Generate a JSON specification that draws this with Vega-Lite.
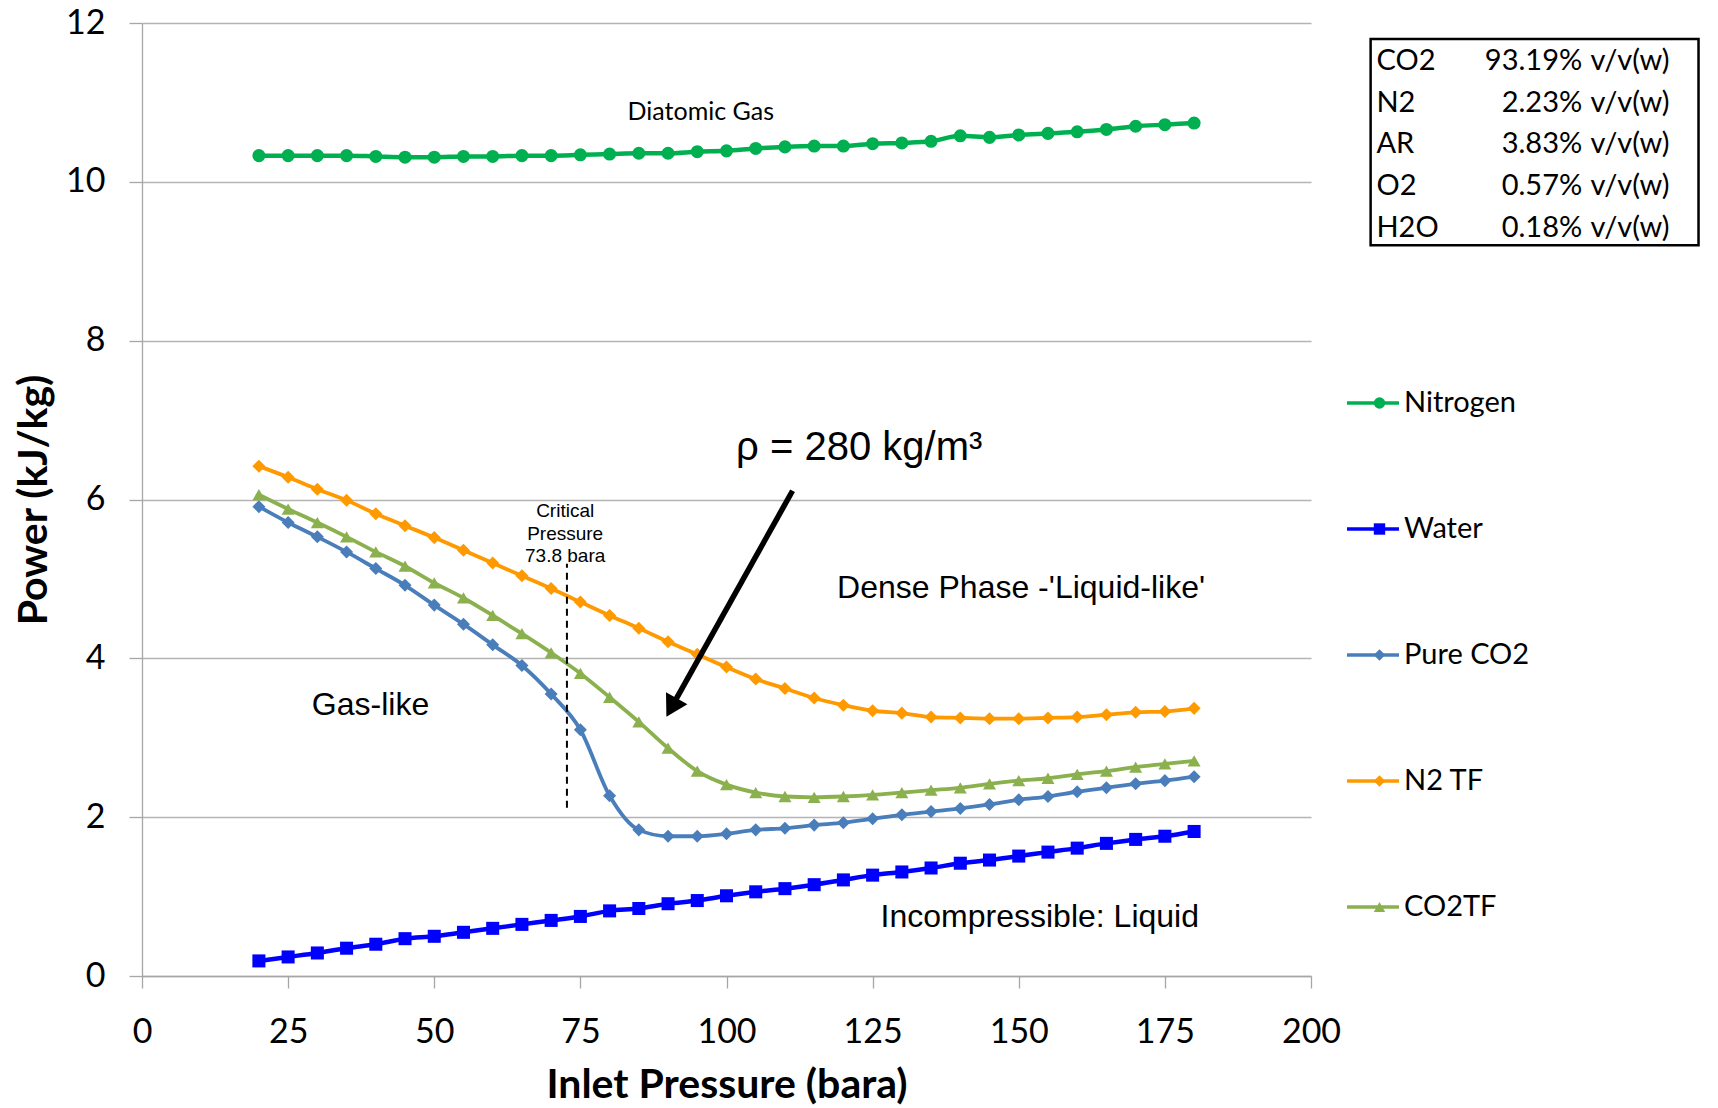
{
  "$schema": "https://vega.github.io/schema/vega-lite/v6.json",
  "width": 1169,
  "height": 953,
  "autosize": {"type": "none"},
  "padding": {"left": 142, "top": 23, "right": 407, "bottom": 132},
  "background": "white",
  "config": {
    "view": {"stroke": null},
    "axis": {
      "labelFont": "Lato", "labelFontSize": 34, "labelColor": "#000000",
      "titleFont": "Lato", "titleFontSize": 41, "titleFontWeight": "bold", "titleColor": "#000000",
      "gridColor": "#B4B4B4", "gridWidth": 1.3,
      "domainColor": "#A6A6A6", "domainWidth": 1.3,
      "tickColor": "#A6A6A6", "tickWidth": 1.3
    }
  },
  "datasets": {
    "curves": [
      {"series":"Nitrogen","p":20,"power":10.33},{"series":"Nitrogen","p":25,"power":10.33},{"series":"Nitrogen","p":30,"power":10.33},{"series":"Nitrogen","p":35,"power":10.33},{"series":"Nitrogen","p":40,"power":10.32},{"series":"Nitrogen","p":45,"power":10.31},{"series":"Nitrogen","p":50,"power":10.31},{"series":"Nitrogen","p":55,"power":10.32},{"series":"Nitrogen","p":60,"power":10.32},{"series":"Nitrogen","p":65,"power":10.33},{"series":"Nitrogen","p":70,"power":10.33},{"series":"Nitrogen","p":75,"power":10.34},{"series":"Nitrogen","p":80,"power":10.35},{"series":"Nitrogen","p":85,"power":10.36},{"series":"Nitrogen","p":90,"power":10.36},{"series":"Nitrogen","p":95,"power":10.38},{"series":"Nitrogen","p":100,"power":10.39},{"series":"Nitrogen","p":105,"power":10.42},{"series":"Nitrogen","p":110,"power":10.44},{"series":"Nitrogen","p":115,"power":10.45},{"series":"Nitrogen","p":120,"power":10.45},{"series":"Nitrogen","p":125,"power":10.48},{"series":"Nitrogen","p":130,"power":10.49},{"series":"Nitrogen","p":135,"power":10.51},{"series":"Nitrogen","p":140,"power":10.58},{"series":"Nitrogen","p":145,"power":10.56},{"series":"Nitrogen","p":150,"power":10.59},{"series":"Nitrogen","p":155,"power":10.61},{"series":"Nitrogen","p":160,"power":10.63},{"series":"Nitrogen","p":165,"power":10.66},{"series":"Nitrogen","p":170,"power":10.7},{"series":"Nitrogen","p":175,"power":10.72},{"series":"Nitrogen","p":180,"power":10.74},
      {"series":"Water","p":20,"power":0.19},{"series":"Water","p":25,"power":0.24},{"series":"Water","p":30,"power":0.29},{"series":"Water","p":35,"power":0.35},{"series":"Water","p":40,"power":0.4},{"series":"Water","p":45,"power":0.47},{"series":"Water","p":50,"power":0.5},{"series":"Water","p":55,"power":0.55},{"series":"Water","p":60,"power":0.6},{"series":"Water","p":65,"power":0.65},{"series":"Water","p":70,"power":0.7},{"series":"Water","p":75,"power":0.75},{"series":"Water","p":80,"power":0.82},{"series":"Water","p":85,"power":0.85},{"series":"Water","p":90,"power":0.91},{"series":"Water","p":95,"power":0.95},{"series":"Water","p":100,"power":1.01},{"series":"Water","p":105,"power":1.06},{"series":"Water","p":110,"power":1.1},{"series":"Water","p":115,"power":1.15},{"series":"Water","p":120,"power":1.21},{"series":"Water","p":125,"power":1.27},{"series":"Water","p":130,"power":1.31},{"series":"Water","p":135,"power":1.36},{"series":"Water","p":140,"power":1.42},{"series":"Water","p":145,"power":1.46},{"series":"Water","p":150,"power":1.51},{"series":"Water","p":155,"power":1.56},{"series":"Water","p":160,"power":1.61},{"series":"Water","p":165,"power":1.67},{"series":"Water","p":170,"power":1.72},{"series":"Water","p":175,"power":1.76},{"series":"Water","p":180,"power":1.82},
      {"series":"Pure CO2","p":20,"power":5.91},{"series":"Pure CO2","p":25,"power":5.71},{"series":"Pure CO2","p":30,"power":5.53},{"series":"Pure CO2","p":35,"power":5.34},{"series":"Pure CO2","p":40,"power":5.13},{"series":"Pure CO2","p":45,"power":4.92},{"series":"Pure CO2","p":50,"power":4.67},{"series":"Pure CO2","p":55,"power":4.43},{"series":"Pure CO2","p":60,"power":4.17},{"series":"Pure CO2","p":65,"power":3.91},{"series":"Pure CO2","p":70,"power":3.55},{"series":"Pure CO2","p":75,"power":3.1},{"series":"Pure CO2","p":80,"power":2.27},{"series":"Pure CO2","p":85,"power":1.84},{"series":"Pure CO2","p":90,"power":1.76},{"series":"Pure CO2","p":95,"power":1.76},{"series":"Pure CO2","p":100,"power":1.79},{"series":"Pure CO2","p":105,"power":1.84},{"series":"Pure CO2","p":110,"power":1.86},{"series":"Pure CO2","p":115,"power":1.9},{"series":"Pure CO2","p":120,"power":1.93},{"series":"Pure CO2","p":125,"power":1.98},{"series":"Pure CO2","p":130,"power":2.03},{"series":"Pure CO2","p":135,"power":2.07},{"series":"Pure CO2","p":140,"power":2.11},{"series":"Pure CO2","p":145,"power":2.16},{"series":"Pure CO2","p":150,"power":2.22},{"series":"Pure CO2","p":155,"power":2.26},{"series":"Pure CO2","p":160,"power":2.32},{"series":"Pure CO2","p":165,"power":2.37},{"series":"Pure CO2","p":170,"power":2.42},{"series":"Pure CO2","p":175,"power":2.46},{"series":"Pure CO2","p":180,"power":2.51},
      {"series":"N2 TF","p":20,"power":6.42},{"series":"N2 TF","p":25,"power":6.28},{"series":"N2 TF","p":30,"power":6.13},{"series":"N2 TF","p":35,"power":5.99},{"series":"N2 TF","p":40,"power":5.82},{"series":"N2 TF","p":45,"power":5.67},{"series":"N2 TF","p":50,"power":5.52},{"series":"N2 TF","p":55,"power":5.36},{"series":"N2 TF","p":60,"power":5.2},{"series":"N2 TF","p":65,"power":5.04},{"series":"N2 TF","p":70,"power":4.88},{"series":"N2 TF","p":75,"power":4.71},{"series":"N2 TF","p":80,"power":4.54},{"series":"N2 TF","p":85,"power":4.38},{"series":"N2 TF","p":90,"power":4.21},{"series":"N2 TF","p":95,"power":4.05},{"series":"N2 TF","p":100,"power":3.89},{"series":"N2 TF","p":105,"power":3.74},{"series":"N2 TF","p":110,"power":3.62},{"series":"N2 TF","p":115,"power":3.5},{"series":"N2 TF","p":120,"power":3.41},{"series":"N2 TF","p":125,"power":3.34},{"series":"N2 TF","p":130,"power":3.31},{"series":"N2 TF","p":135,"power":3.26},{"series":"N2 TF","p":140,"power":3.25},{"series":"N2 TF","p":145,"power":3.24},{"series":"N2 TF","p":150,"power":3.24},{"series":"N2 TF","p":155,"power":3.25},{"series":"N2 TF","p":160,"power":3.26},{"series":"N2 TF","p":165,"power":3.29},{"series":"N2 TF","p":170,"power":3.32},{"series":"N2 TF","p":175,"power":3.33},{"series":"N2 TF","p":180,"power":3.37},
      {"series":"CO2TF","p":20,"power":6.06},{"series":"CO2TF","p":25,"power":5.88},{"series":"CO2TF","p":30,"power":5.71},{"series":"CO2TF","p":35,"power":5.53},{"series":"CO2TF","p":40,"power":5.34},{"series":"CO2TF","p":45,"power":5.16},{"series":"CO2TF","p":50,"power":4.95},{"series":"CO2TF","p":55,"power":4.76},{"series":"CO2TF","p":60,"power":4.54},{"series":"CO2TF","p":65,"power":4.31},{"series":"CO2TF","p":70,"power":4.07},{"series":"CO2TF","p":75,"power":3.81},{"series":"CO2TF","p":80,"power":3.51},{"series":"CO2TF","p":85,"power":3.2},{"series":"CO2TF","p":90,"power":2.87},{"series":"CO2TF","p":95,"power":2.58},{"series":"CO2TF","p":100,"power":2.41},{"series":"CO2TF","p":105,"power":2.31},{"series":"CO2TF","p":110,"power":2.26},{"series":"CO2TF","p":115,"power":2.25},{"series":"CO2TF","p":120,"power":2.26},{"series":"CO2TF","p":125,"power":2.28},{"series":"CO2TF","p":130,"power":2.31},{"series":"CO2TF","p":135,"power":2.34},{"series":"CO2TF","p":140,"power":2.37},{"series":"CO2TF","p":145,"power":2.42},{"series":"CO2TF","p":150,"power":2.46},{"series":"CO2TF","p":155,"power":2.49},{"series":"CO2TF","p":160,"power":2.54},{"series":"CO2TF","p":165,"power":2.58},{"series":"CO2TF","p":170,"power":2.63},{"series":"CO2TF","p":175,"power":2.67},{"series":"CO2TF","p":180,"power":2.71}
    ],
    "regions": [
      {"label":"Gas-like","p":39.1,"power":3.41},
      {"label":"Dense Phase -'Liquid-like'","p":150.4,"power":4.885},
      {"label":"Incompressible: Liquid","p":153.6,"power":0.74}
    ],
    "critical": [
      {"label":"Critical","p":72.4,"power":5.855},
      {"label":"Pressure","p":72.4,"power":5.565},
      {"label":"73.8 bara","p":72.4,"power":5.29}
    ],
    "composition": [
      {"gas":"CO2","pct":"93.19%","unit":"v/v(w)","gp":211.2,"pp":246.4,"up":247.8,"power":11.52},
      {"gas":"N2","pct":"2.23%","unit":"v/v(w)","gp":211.2,"pp":246.4,"up":247.8,"power":10.99},
      {"gas":"AR","pct":"3.83%","unit":"v/v(w)","gp":211.2,"pp":246.4,"up":247.8,"power":10.476},
      {"gas":"O2","pct":"0.57%","unit":"v/v(w)","gp":211.2,"pp":246.4,"up":247.8,"power":9.947},
      {"gas":"H2O","pct":"0.18%","unit":"v/v(w)","gp":211.2,"pp":246.4,"up":247.8,"power":9.418}
    ]
  },
  "layer": [
    {
      "data": {"name": "curves"},
      "mark": {"type": "line", "interpolate": "monotone"},
      "encoding": {
        "x": {
          "field": "p", "type": "quantitative",
          "scale": {"domain": [0, 200], "nice": false},
          "axis": {"values": [0,25,50,75,100,125,150,175,200], "format": "d", "labelFlush": false, "title": "Inlet Pressure (bara)", "grid": false, "tickSize": 12, "labelPadding": 27, "titlePadding": 16}
        },
        "y": {
          "field": "power", "type": "quantitative",
          "scale": {"domain": [0, 12], "nice": false},
          "axis": {"values": [0,2,4,6,8,10,12], "format": "d", "labelFlush": false, "title": "Power (kJ/kg)", "grid": true, "tickSize": 13, "labelPadding": 24, "titlePadding": 10}
        },
        "color": {
          "field": "series", "type": "nominal",
          "scale": {"domain": ["Nitrogen","Water","Pure CO2","N2 TF","CO2TF"], "range": ["#00B050","#0000FF","#4A7EBB","#FF9900","#8BB04E"]},
          "legend": {
            "orient": "none", "legendX": 1203, "legendY": 365, "title": null,
            "symbolType": "stroke", "symbolSize": 2704, "symbolStrokeWidth": 3.5,
            "labelFont": "Lato", "labelFontSize": 29, "labelOffset": 3, "labelColor": "#000000",
            "rowPadding": 96, "clipHeight": 30, "padding": 0, "symbolOffset": 0
          }
        },
        "strokeWidth": {"condition": {"test": "datum.series === 'Nitrogen' || datum.series === 'Water'", "value": 4.5}, "value": 3.8}
      }
    },
    {
      "data": {"name": "curves"},
      "mark": {"type": "point", "filled": true, "opacity": 1, "size": 170},
      "encoding": {
        "x": {"field": "p", "type": "quantitative"},
        "y": {"field": "power", "type": "quantitative"},
        "fill": {
          "field": "series", "type": "nominal",
          "scale": {"domain": ["CO2TF","N2 TF","Pure CO2","Water","Nitrogen"], "range": ["#8BB04E","#FF9900","#4A7EBB","#0000FF","#00B050"]},
          "legend": {
            "orient": "none", "legendX": 1223, "legendY": 365, "title": null,
            "values": ["Nitrogen","Water","Pure CO2","N2 TF","CO2TF"],
            "symbolSize": 130, "symbolStrokeWidth": 0,
            "labelFont": "Lato", "labelFontSize": 29, "labelExpr": "''",
            "rowPadding": 96, "clipHeight": 30, "padding": 0, "symbolOffset": 0
          }
        },
        "shape": {
          "field": "series", "type": "nominal",
          "scale": {"domain": ["CO2TF","N2 TF","Pure CO2","Water","Nitrogen"], "range": ["triangle-up","diamond","diamond","square","circle"]},
          "legend": {
            "orient": "none", "legendX": 1223, "legendY": 365, "title": null,
            "values": ["Nitrogen","Water","Pure CO2","N2 TF","CO2TF"],
            "symbolSize": 130, "symbolStrokeWidth": 0,
            "labelFont": "Lato", "labelFontSize": 29, "labelExpr": "''",
            "rowPadding": 96, "clipHeight": 30, "padding": 0, "symbolOffset": 0
          }
        }
      }
    },
    {
      "data": {"values": [{"p": 72.7, "power": 2.12, "power2": 5.19}]},
      "mark": {"type": "rule", "color": "#000000", "strokeWidth": 2, "strokeDash": [7, 5]},
      "encoding": {
        "x": {"field": "p", "type": "quantitative"},
        "y": {"field": "power", "type": "quantitative"},
        "y2": {"field": "power2"}
      }
    },
    {
      "data": {"values": [{"p": 111.3, "power": 6.11, "p2": 90.8, "power2": 3.41}]},
      "mark": {"type": "rule", "color": "#000000", "strokeWidth": 5.5},
      "encoding": {
        "x": {"field": "p", "type": "quantitative"},
        "y": {"field": "power", "type": "quantitative"},
        "x2": {"field": "p2"},
        "y2": {"field": "power2"}
      }
    },
    {
      "data": {"values": [{"p": 90.6, "power": 3.38}]},
      "mark": {"type": "point", "shape": "triangle-down", "angle": 29, "size": 600, "filled": true, "color": "#000000", "opacity": 1},
      "encoding": {
        "x": {"field": "p", "type": "quantitative"},
        "y": {"field": "power", "type": "quantitative"}
      }
    },
    {
      "data": {"values": [{"label": "Diatomic Gas", "p": 95.6, "power": 10.88}]},
      "mark": {"type": "text", "font": "Lato", "fontSize": 25, "color": "#000000", "align": "center", "baseline": "middle"},
      "encoding": {
        "x": {"field": "p", "type": "quantitative"},
        "y": {"field": "power", "type": "quantitative"},
        "text": {"field": "label"}
      }
    },
    {
      "data": {"name": "regions"},
      "mark": {"type": "text", "font": "Liberation Sans", "fontSize": 32, "color": "#000000", "align": "center", "baseline": "middle"},
      "encoding": {
        "x": {"field": "p", "type": "quantitative"},
        "y": {"field": "power", "type": "quantitative"},
        "text": {"field": "label"}
      }
    },
    {
      "data": {"name": "critical"},
      "mark": {"type": "text", "font": "Liberation Sans", "fontSize": 19, "color": "#000000", "align": "center", "baseline": "middle"},
      "encoding": {
        "x": {"field": "p", "type": "quantitative"},
        "y": {"field": "power", "type": "quantitative"},
        "text": {"field": "label"}
      }
    },
    {
      "data": {"values": [{"label": "ρ = 280 kg/m³", "p": 122.7, "power": 6.5}]},
      "mark": {"type": "text", "font": "Liberation Sans", "fontSize": 40, "color": "#000000", "align": "center", "baseline": "alphabetic"},
      "encoding": {
        "x": {"field": "p", "type": "quantitative"},
        "y": {"field": "power", "type": "quantitative"},
        "text": {"field": "label"}
      }
    },
    {
      "data": {"values": [{"p": 210.2, "p2": 266.3, "power": 11.8, "power2": 9.2}]},
      "mark": {"type": "rect", "fill": "#FFFFFF", "stroke": "#000000", "strokeWidth": 2.5},
      "encoding": {
        "x": {"field": "p", "type": "quantitative"},
        "x2": {"field": "p2"},
        "y": {"field": "power", "type": "quantitative"},
        "y2": {"field": "power2"}
      }
    },
    {
      "data": {"name": "composition"},
      "mark": {"type": "text", "font": "Lato", "fontSize": 29, "color": "#000000", "align": "left", "baseline": "middle"},
      "encoding": {
        "x": {"field": "gp", "type": "quantitative"},
        "y": {"field": "power", "type": "quantitative"},
        "text": {"field": "gas"}
      }
    },
    {
      "data": {"name": "composition"},
      "mark": {"type": "text", "font": "Lato", "fontSize": 29, "color": "#000000", "align": "right", "baseline": "middle"},
      "encoding": {
        "x": {"field": "pp", "type": "quantitative"},
        "y": {"field": "power", "type": "quantitative"},
        "text": {"field": "pct"}
      }
    },
    {
      "data": {"name": "composition"},
      "mark": {"type": "text", "font": "Lato", "fontSize": 29, "color": "#000000", "align": "left", "baseline": "middle"},
      "encoding": {
        "x": {"field": "up", "type": "quantitative"},
        "y": {"field": "power", "type": "quantitative"},
        "text": {"field": "unit"}
      }
    }
  ]
}
